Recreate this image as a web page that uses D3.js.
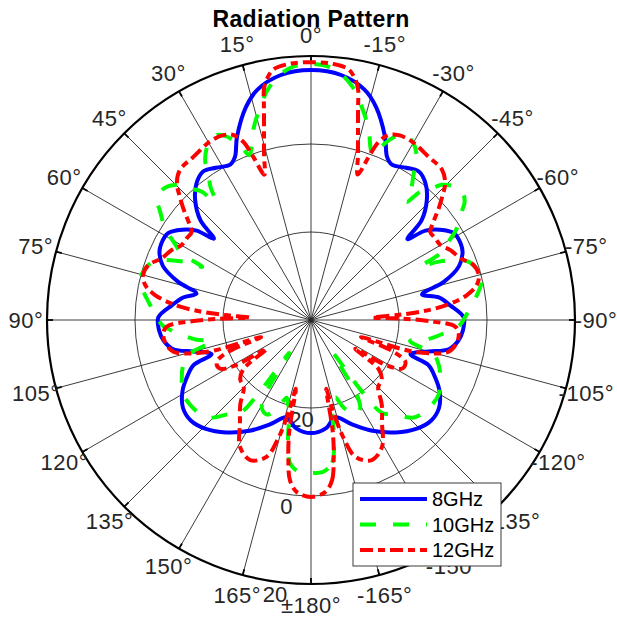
<!DOCTYPE html>
<html>
<head>
<meta charset="utf-8">
<script src="https://cdn.jsdelivr.net/npm/d3@7"></script>
<style>
  body { margin: 0; background: #fff; }
  svg { display: block; font-family: "Liberation Sans", Arial, sans-serif; }
</style>
</head>
<body>
<svg id="svg" width="617" height="617"></svg>
<script>
/* Radial axis (dB) and angle ticks */
let rLimits = [-40, 20];
let rTicks = [-20, 0, 20];
let thetaTicks = [0, 15, 30, 45, 60, 75, 90, 105, 120, 135, 150, 165, 180,
  -165, -150, -135, -120, -105, -90, -75, -60, -45, -30, -15];
let thetaLabels = ["0°", "15°", "30°", "45°", "60°", "75°", "90°", "105°", "120°", "135°", "150°", "165°", "±180°",
  "-165°", "-150°", "-135°", "-120°", "-105°", "-90°", "-75°", "-60°", "-45°", "-30°", "-15°"];

let seriesNames = ["8GHz", "10GHz", "12GHz"];

/* 8 GHz: angle (deg) and gain (dB) */
let theta8 = [-172, -166, -158.5, -151, -143, -136, -130, -124.5, -119, -115, -111, -109, -105, -102, -98, -94, -89, -84, -80, -77,
  -74, -70, -66, -63, -58.7, -55, -52, -50, -48, -44, -40, -36, -32, -27.5, -25, -22, -17, -13, -7,
  0, 7, 13, 17, 22, 25, 27.5, 32, 36, 40, 44, 48, 50, 52, 55, 58.7, 63, 66, 70, 74, 77,
  80, 84, 89, 94, 98, 102, 105, 109, 111, 115, 119, 124.5, 130, 136, 143, 151, 158.5, 166, 172, 180];
let gain8 = [-15.2, -17.2, -14.5, -11.2, -8.0, -5.6, -4.4, -4.7, -6.6, -8.8, -11.4, -16.1, -12.3, -8.0, -6.2, -5.4, -5.3, -8.2, -10.5, -14.1,
  -8.6, -4.2, -2.3, -1.8, -2.0, -4.2, -7.0, -11.4, -6.2, -2.1, 0.5, 1.7, 0.8, -0.2, 0.9, 4.9, 10.6, 13.8, 16.1,
  16.8, 16.1, 13.8, 10.6, 4.9, 0.9, -0.2, 0.8, 1.7, 0.5, -2.1, -6.2, -11.2, -7.0, -4.2, -2.0, -1.8, -2.3, -4.2, -8.6, -13.3,
  -10.5, -8.2, -5.3, -5.4, -6.2, -8.0, -12.3, -16.1, -11.4, -8.8, -6.6, -4.7, -4.4, -5.6, -8.0, -11.2, -14.5, -17.2, -15.2, -14.3];

/* 10 GHz */
let theta10 = [-175, -171.6, -168.7, -167, -165, -162.5, -159.5, -155, -151, -148.5, -146.5, -144.5, -142.6, -138.3, -134, -131, -126,
  -120.3, -114.2, -110, -105.9, -102, -99.8, -96.5, -92, -89, -84, -80.4, -76.8, -73, -69.3, -65.5, -64, -62.7, -60.5, -57.8,
  -54, -52.5, -50, -47, -44, -42.6, -40.5, -39, -37, -35, -33.5, -30, -27, -24.7, -22, -20.5, -19, -17, -14, -10, -5,
  0, 5, 10, 14, 17, 19, 20.5, 22, 24.7, 27, 30, 33.5, 35, 37, 39, 40.5, 42.6, 44, 47, 50, 52.5, 54, 57.8, 60.5, 62.7, 64,
  65.5, 69.3, 73, 76.8, 80.4, 84, 89, 92, 96.5, 99.8, 102, 105.9, 110, 114.2, 120.3, 126, 131, 134, 138.3, 142.6, 144.5,
  146.5, 148.5, 151, 155, 159.5, 162.5, 165, 167, 168.7, 171.6, 175, 180];
let gain10 = [-5.5, -7.2, -13.4, -18.5, -20.0, -21.5, -18.7, -16.3, -17.0, -20.0, -31.0, -20.0, -13.4, -11.2, -8.0, -7.1, -6.5,
  -6.4, -7.8, -9.0, -10.9, -17.0, -13.6, -10.4, -6.2, -5.0, -3.0, -1.4, -0.1, -0.5, -2.1, -8.0, -12.5, -6.9, -4.2, -0.8,
  2.5, 4.0, 5.0, 4.5, 2.7, 0.6, -1.5, -5.5, -2.0, 0.7, 3.6, 6.5, 7.2, 5.9, 2.5, 0, 1.5, 5.0, 9.0, 13.9, 17.4,
  18.2, 17.4, 13.9, 9.0, 5.0, 1.5, 0, 2.5, 5.9, 7.2, 6.5, 3.6, 0.7, -2.0, -5.5, -1.5, 0.6, 2.7, 4.5, 5.0, 4.0, 2.5, -0.8, -4.2, -6.9, -12.5,
  -8.0, -2.1, -0.5, -0.1, -1.4, -3.0, -5.0, -6.2, -10.4, -13.6, -17.0, -10.9, -9.0, -7.8, -6.4, -6.5, -7.1, -8.0, -11.2, -13.4, -20.0,
  -31.0, -20.0, -17.0, -16.3, -18.7, -21.5, -20.0, -18.5, -13.4, -7.2, -5.5, -5.2];

/* 12 GHz */
let theta12 = [-175.2, -172.5, -170.8, -169, -167.5, -166.5, -164.5, -162, -156.5, -150.7, -145.5, -140, -135, -130, -126, -123,
  -121, -118, -114, -111, -109, -107.5, -105.8, -103, -99, -95.1, -92.6, -90.5, -89, -87.8, -86.7, -85.7, -83.7, -80.9, -78.1,
  -75, -71.3, -67.5, -63.5, -59.9, -56.5, -53.5, -51.9, -48.8, -46.7, -44.5, -41.1, -35.8, -29.5, -25.4, -22.8, -20.8, -19.5,
  -17.8, -16, -15, -13.6, -12.5, -11.5, -10.5, -8.5, -5,
  0, 5, 8.5, 10.5, 11.5, 12.5, 13.6, 15, 16, 17.8, 19.5, 20.8, 22.8, 25.4, 29.5, 35.8, 41.1, 44.5, 46.7, 48.8, 51.9, 53.5,
  56.5, 59.9, 63.5, 67.5, 71.3, 75, 78.1, 80.9, 83.7, 85.7, 86.7, 87.8, 89, 90.5, 92.6, 95.1, 99, 103, 105.8, 107.5, 109,
  111, 114, 118, 121, 123, 126, 130, 135, 140, 145.5, 150.7, 156.5, 162, 164.5, 166.5, 167.5, 169, 170.8, 172.5, 175.2, 180];
let gain12 = [-0.8, -3.3, -7.8, -14.0, -24.0, -19.0, -12.0, -7.3, -5.3, -7.0, -11.5, -15.0, -18.4, -19.0, -21.0, -28.0,
  -20.0, -16.5, -16.5, -20.0, -28.0, -17.0, -12.2, -7.9, -6.5, -6.3, -7.2, -13.3, -20.0, -26.0, -20.4, -15.1, -8.9, -4.1, -1.5,
  -0.5, -1.0, -3.3, -4.5, -6.0, -6.2, -6.3, -5.0, -1.4, 1.0, 3.5, 5.3, 5.7, 6.6, 6.5, 5.6, 3.3, -0.6,
  -5.3, -1.3, 1.3, 5.4, 9.4, 13.6, 15.5, 17.6, 18.4,
  18.6, 18.4, 17.6, 15.5, 13.6, 9.4, 5.4, 1.3, -1.3, -5.3, -0.6, 3.3, 5.6, 6.5, 6.6, 5.7, 5.3, 3.5, 1.0, -1.4, -5.0, -6.3,
  -6.2, -6.0, -4.5, -3.3, -1.0, -0.5, -1.5, -4.1, -8.9, -15.1, -20.4, -26.0, -20.0, -13.3, -7.2, -6.3, -6.5, -7.9, -12.2, -17.0, -28.0,
  -20.0, -16.5, -16.5, -20.0, -28.0, -21.0, -19.0, -18.4, -15.0, -11.5, -7.0, -5.3, -7.3, -12.0, -19.0, -24.0, -14.0, -7.8, -3.3, -0.8, 0.2];

let svg = d3.select("#svg");
let cx = 311, cy = 320, R = 264;
let ink = "#262626";

let r = d3.scaleLinear().domain(rLimits).range([0, R]);
/* angles run counter-clockwise from the top */
let toRad = t => -t * Math.PI / 180;
let px = (t, rr) => cx + rr * Math.sin(toRad(t));
let py = (t, rr) => cy - rr * Math.cos(toRad(t));

let plot = svg.append("g");

/* Grid: spokes and circles */
plot.selectAll("line.spoke")
  .data(thetaTicks)
  .join("line")
  .attr("x1", cx).attr("y1", cy)
  .attr("x2", d => px(d, R)).attr("y2", d => py(d, R))
  .attr("stroke", ink)
  .attr("stroke-width", 0.9);

plot.selectAll("circle.grid")
  .data(rTicks.slice(0, -1))
  .join("circle")
  .attr("cx", cx).attr("cy", cy)
  .attr("r", d => r(d))
  .attr("fill", "none")
  .attr("stroke", ink)
  .attr("stroke-width", 0.9);

/* Outer ring + tick marks */
plot.append("circle")
  .attr("cx", cx).attr("cy", cy).attr("r", R)
  .attr("fill", "none")
  .attr("stroke", "black")
  .attr("stroke-width", 2.2);

plot.selectAll("line.tick")
  .data(thetaTicks)
  .join("line")
  .attr("x1", d => px(d, R - 6)).attr("y1", d => py(d, R - 6))
  .attr("x2", d => px(d, R)).attr("y2", d => py(d, R))
  .attr("stroke", "black")
  .attr("stroke-width", 1.8);

/* Angle labels */
plot.selectAll("text.theta")
  .data(thetaTicks)
  .join("text")
  .attr("x", d => px(d, 285))
  .attr("y", d => py(d, 285))
  .attr("text-anchor", "middle")
  .attr("dominant-baseline", "central")
  .attr("font-size", 22)
  .attr("letter-spacing", 0.5)
  .attr("fill", ink)
  .text((d, i) => thetaLabels[i]);

/* Radial labels */
plot.selectAll("text.rtick")
  .data(rTicks)
  .join("text")
  .attr("x", d => px(172.5, r(d) + 12.5))
  .attr("y", d => py(172.5, r(d) + 12.5))
  .attr("text-anchor", "middle")
  .attr("dominant-baseline", "central")
  .attr("font-size", 22)
  .attr("fill", ink)
  .text(d => d);

/* Curves */
let line = d3.lineRadial()
  .angle(d => toRad(d[0]))
  .radius(d => r(d[1]))
  .curve(d3.curveCatmullRomClosed.alpha(0.5));

let series = [
  { th: theta8, g: gain8, color: "#0000ff", dash: null },
  { th: theta10, g: gain10, color: "#00ff00", dash: "16,17" },
  { th: theta12, g: gain12, color: "#ff0000", dash: "13,5,7,5" }
];

series.forEach(s => {
  let pts = s.th.map((t, i) => [t, s.g[i]]);
  plot.append("path")
    .attr("transform", `translate(${cx},${cy})`)
    .attr("d", line(pts))
    .attr("fill", "none")
    .attr("stroke", s.color)
    .attr("stroke-width", 4)
    .attr("stroke-dasharray", s.dash);
});

/* Title */
svg.append("text")
  .attr("x", cx).attr("y", 27)
  .attr("text-anchor", "middle")
  .attr("font-size", 23)
  .attr("letter-spacing", 0.4)
  .attr("font-weight", "bold")
  .attr("fill", "black")
  .text("Radiation Pattern");

/* Legend */
let legend = svg.append("g");
legend.append("rect")
  .attr("x", 353).attr("y", 483)
  .attr("width", 148).attr("height", 83)
  .attr("fill", "white")
  .attr("stroke", ink)
  .attr("stroke-width", 0.9);

let rowY = [499, 524.5, 550];
series.forEach((s, i) => {
  legend.append("line")
    .attr("x1", 360).attr("x2", 427)
    .attr("y1", rowY[i]).attr("y2", rowY[i])
    .attr("stroke", s.color)
    .attr("stroke-width", 4)
    .attr("stroke-dasharray", s.dash);
  legend.append("text")
    .attr("x", 432).attr("y", rowY[i])
    .attr("dominant-baseline", "central")
    .attr("font-size", 20)
    .attr("fill", "black")
    .text(seriesNames[i]);
});
</script>
</body>
</html>
